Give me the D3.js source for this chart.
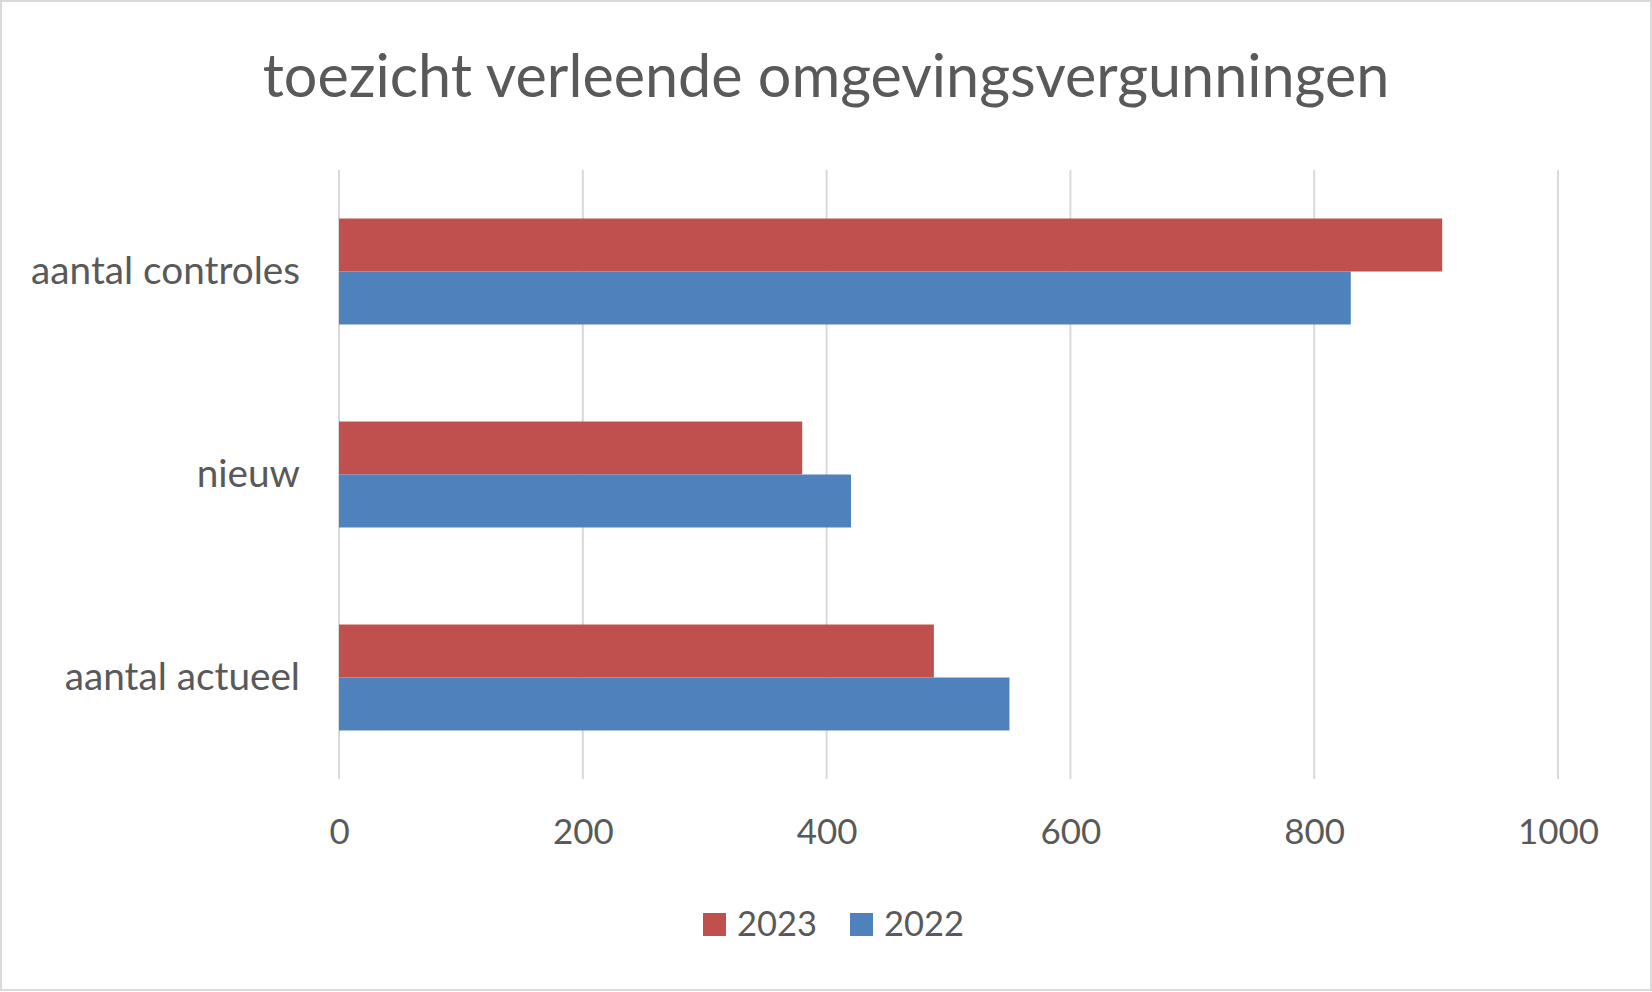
<!DOCTYPE html>
<html><head><meta charset="utf-8">
<script src="https://cdn.jsdelivr.net/npm/d3@7"></script>
<style>html,body{margin:0;padding:0;background:#fff;}svg{display:block;}</style>
</head><body>
<script>
const title = "toezicht verleende omgevingsvergunningen";
const categories = ["aantal controles", "nieuw", "aantal actueel"];
const seriesNames = ["2023", "2022"];
const values2023 = [905, 380, 488];
const values2022 = [830, 420, 550];
const xTicks = [0, 200, 400, 600, 800, 1000];
const colors = ["#C0504D", "#4F81BD"];

const W = 1652, H = 992;
const FONT = "Lato, 'Open Sans', sans-serif";
const TEXT = "#595959";
const svg = d3.select("body").append("svg").attr("width", W).attr("height", H);

svg.append("rect").attr("x", 1).attr("y", 1).attr("width", W - 2).attr("height", H - 3)
  .attr("fill", "#fff").attr("stroke", "#D9D9D9").attr("stroke-width", 2);

function fit(sel, target) {
  const node = sel.node();
  const fs = parseFloat(sel.attr("font-size"));
  const w = node.getComputedTextLength();
  sel.attr("font-size", (fs * target / w).toFixed(2));
  return fs * target / w;
}

const x = d3.scaleLinear().domain([0, 1000]).range([339, 1558]);
const y = d3.scaleBand().domain(categories).range([170, 779]).paddingInner(0.478).paddingOuter(0.239);
const ys = d3.scaleBand().domain(seriesNames).range([0, y.bandwidth()]);

// title
const t = svg.append("text").attr("x", W / 2).attr("y", 97).attr("text-anchor", "middle")
  .attr("font-family", FONT).attr("font-size", 50).attr("fill", TEXT).text(title);
fit(t, 1127);

// gridlines
svg.append("g").selectAll("line").data(xTicks).join("line")
  .attr("x1", d => x(d)).attr("x2", d => x(d)).attr("y1", 170).attr("y2", 779)
  .attr("stroke", "#D9D9D9").attr("stroke-width", 2);

// bars
const series = [values2023, values2022];
const g = svg.append("g");
series.forEach((vals, si) => {
  g.selectAll(null).data(categories.map((c, i) => ({c, v: vals[i]}))).join("rect")
    .attr("x", x(0)).attr("y", d => y(d.c) + ys(seriesNames[si]))
    .attr("width", d => x(d.v) - x(0)).attr("height", ys.bandwidth())
    .attr("fill", colors[si]);
});

// x axis labels
const xAxis = svg.append("g").attr("transform", "translate(0,832)")
  .call(d3.axisBottom(x).tickValues(xTicks).tickSize(0).tickFormat(d3.format("d")));
xAxis.select(".domain").remove();
xAxis.selectAll("text").attr("font-family", FONT).attr("fill", TEXT).attr("dy", "0.35em").attr("y", 0);
let tickText = xAxis.selectAll("text").filter(d => d === 1000);
tickText.attr("font-size", 40);
const tfs = fit(tickText, 81);
xAxis.selectAll("text").attr("font-size", tfs.toFixed(2));

// y axis labels
const yAxis = svg.append("g").attr("transform", "translate(300,0)")
  .call(d3.axisLeft(y).tickSize(0).tickPadding(0));
yAxis.select(".domain").remove();
yAxis.selectAll("text").attr("font-family", FONT).attr("fill", TEXT);
let ct = yAxis.selectAll("text").filter(d => d === "aantal controles");
ct.attr("font-size", 40);
const cfs = fit(ct, 269);
yAxis.selectAll("text").attr("font-size", cfs.toFixed(2));

// legend
const legendX = [703, 850];
const lg = svg.append("g");
seriesNames.forEach((s, i) => {
  lg.append("rect").attr("x", legendX[i]).attr("y", 913).attr("width", 23).attr("height", 23).attr("fill", colors[i]);
  const lt = lg.append("text").attr("x", legendX[i] + 34).attr("y", 936)
    .attr("font-family", FONT).attr("font-size", 40).attr("fill", TEXT).text(s);
  fit(lt, 80);
});
</script>
</body></html>
